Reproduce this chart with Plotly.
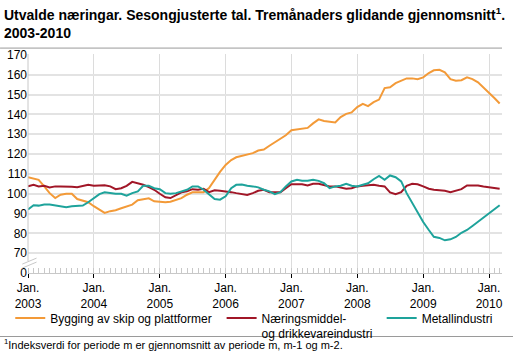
import pandas as pd
import plotly.graph_objects as go

months = pd.date_range("2003-01-01", periods=87, freq="MS")

bygging = [108.3, 107.7, 107.0, 103.7, 100.3, 97.8, 99.5, 100.0, 100.0, 97.3, 96.5, 95.7,
           93.7, 92.0, 90.3, 91.2, 91.7, 92.7, 93.7, 94.5, 96.7, 97.3, 97.7, 96.2,
           95.8, 95.7, 96.0, 97.0, 97.8, 99.5, 100.7, 100.8, 100.8, 102.8, 107.0, 111.0,
           114.5, 117.0, 118.4, 119.2, 119.8, 120.5, 121.8, 122.3, 124.2, 126.0, 127.8, 129.5,
           132.0, 132.5, 132.8, 133.2, 135.5, 137.5, 136.7, 136.2, 136.0, 138.7, 140.3, 141.0,
           143.7, 145.3, 144.2, 146.2, 147.5, 153.3, 153.7, 155.8, 157.0, 158.2, 158.2, 157.8,
           158.7, 160.9, 162.3, 162.5, 161.2, 157.8, 157.0, 157.3, 158.7, 157.8, 156.2, 153.7,
           150.7, 148.2, 145.5]

naering = [103.7, 104.5, 103.7, 104.0, 103.2, 103.7, 103.7, 103.7, 103.5, 103.3, 104.0, 104.5,
           104.0, 104.0, 104.3, 103.7, 102.3, 102.8, 104.0, 106.0, 105.3, 104.5, 103.3, 102.0,
           100.0, 98.2, 97.8, 99.2, 100.7, 101.2, 102.3, 102.0, 102.5, 100.8, 101.7, 101.5,
           101.3, 100.8, 100.3, 99.8, 99.4, 100.3, 101.5, 102.0, 100.8, 100.7, 100.7, 102.8,
           104.8, 104.8, 104.8, 104.2, 105.0, 105.0, 104.5, 103.7, 103.7, 103.2, 102.5, 102.8,
           103.7, 104.0, 104.2, 104.5, 104.0, 103.7, 100.7, 99.8, 100.8, 104.0, 105.0, 104.8,
           103.7, 102.5, 102.0, 101.7, 101.5, 100.8, 101.7, 102.3, 104.2, 104.2, 104.2, 103.7,
           103.2, 102.8, 102.5]

metall = [92.0, 94.2, 94.0, 94.5, 94.5, 94.0, 93.7, 93.2, 93.7, 94.0, 94.0, 95.7,
          97.8, 99.8, 100.7, 100.3, 100.0, 100.0, 99.0, 100.3, 101.2, 104.0, 104.0, 102.8,
          102.3, 100.3, 100.0, 100.3, 101.2, 102.0, 103.7, 103.7, 102.0, 99.5, 97.3, 97.0,
          98.7, 102.8, 104.5, 104.7, 104.0, 103.7, 103.2, 102.0, 101.2, 99.8, 100.8, 103.7,
          106.2, 107.0, 106.5, 106.5, 107.0, 106.5, 105.3, 102.8, 103.7, 104.0, 105.0, 104.0,
          103.7, 104.5, 105.3, 107.3, 109.0, 107.0, 109.2, 108.3, 106.2, 100.3, 95.3, 91.2,
          85.7, 81.7, 78.3, 77.7, 76.5, 77.0, 78.2, 80.3, 81.7, 83.7, 85.8, 88.3,
          90.3, 92.3, 94.2]

years = list(range(2003, 2011))
tick_dates = [f"{y}-01-01" for y in years]
tick_text = [f"Jan.<br>{y}" for y in years]

y_tickvals = [60, 70, 80, 90, 100, 110, 120, 130, 140, 150, 160, 170]
y_ticktext = ["0", "70", "80", "90", "100", "110", "120", "130", "140", "150", "160", "170"]

series = [
    ("Bygging av skip og plattformer", bygging, "#f39a38", "legend"),
    ("Næringsmiddel-<br>og drikkevareindustri", naering, "#a11627", "legend2"),
    ("Metallindustri", metall, "#1ea39b", "legend3"),
]

fig = go.Figure()
for name, vals, col, lg in series:
    fig.add_trace(go.Scatter(x=months, y=vals, mode="lines", name=name, legend=lg,
                             line=dict(color=col, width=2)))

font = "Liberation Sans, Arial, sans-serif"

def leg(x):
    return dict(orientation="h", xref="container", x=x, xanchor="left",
                yref="container", y=0.137, yanchor="top",
                bgcolor="rgba(0,0,0,0)",
                valign="top", font=dict(size=12), itemwidth=30)

fig.update_layout(
    width=513, height=352,
    margin=dict(l=28, r=11, t=54, b=79, autoexpand=False),
    paper_bgcolor="white", plot_bgcolor="white",
    font=dict(family=font, size=12, color="#000"),
    showlegend=True,
    legend=leg(0.020),
    legend2=leg(0.432),
    legend3=leg(0.744),
)

fig.update_xaxes(
    range=["2003-01-01", "2010-03-14"],
    tickvals=tick_dates, ticktext=tick_text,
    showgrid=True, gridcolor="#dcdcdc", gridwidth=1,
    ticks="outside", ticklen=4, tickcolor="#000", tickwidth=1,
    showline=True, linecolor="#c8c8c8", linewidth=1,
    minor=dict(ticks="inside", dtick="M1", tick0="2003-01-01", ticklen=5,
               tickcolor="#c8c8c8", showgrid=False),
    tickfont=dict(size=12), zeroline=False, automargin=False,
)
fig.update_yaxes(
    range=[60, 170.5], tickvals=y_tickvals, ticktext=y_ticktext,
    showgrid=True, gridcolor="#e3e3e3", gridwidth=2,
    ticks="", zeroline=False, showline=False,
    tickfont=dict(size=12), automargin=False,
)

# left axis line above the break, and break marks
fig.add_shape(type="line", xref="paper", yref="y", x0=0, x1=0, y0=66, y1=170.5,
              line=dict(color="#c8c8c8", width=1))
for dy in (0, 2):
    fig.add_shape(type="line", xref="paper", yref="y", x0=-0.012, x1=0.018,
                  y0=62.5 + dy, y1=65.5 + dy, line=dict(color="#c8c8c8", width=1))

# title
fig.add_annotation(xref="paper", yref="paper", x=-0.055, y=1.235, xanchor="left", yanchor="top",
                   align="left", showarrow=False,
                   text="<b>Utvalde næringar. Sesongjusterte tal. Tremånaders glidande gjennomsnitt<sup>1</sup>.<br>2003-2010</b>",
                   font=dict(size=14, family=font))
fig.add_shape(type="line", xref="paper", yref="paper", x0=-0.059, x1=1.0,
              y0=1.027, y1=1.027, line=dict(color="#9a9a9a", width=1))
# footnote
fig.add_shape(type="line", xref="paper", yref="paper", x0=-0.06, x1=1.03,
              y0=-0.29, y1=-0.29, line=dict(color="#9a9a9a", width=1))
fig.add_annotation(xref="paper", yref="paper", x=-0.055, y=-0.324, xanchor="left", yanchor="middle",
                   align="left", showarrow=False,
                   text="<sup>1</sup>Indeksverdi for periode m er gjennomsnitt av periode m, m-1 og m-2.",
                   font=dict(size=11, family=font))

fig.write_html("out.html")
